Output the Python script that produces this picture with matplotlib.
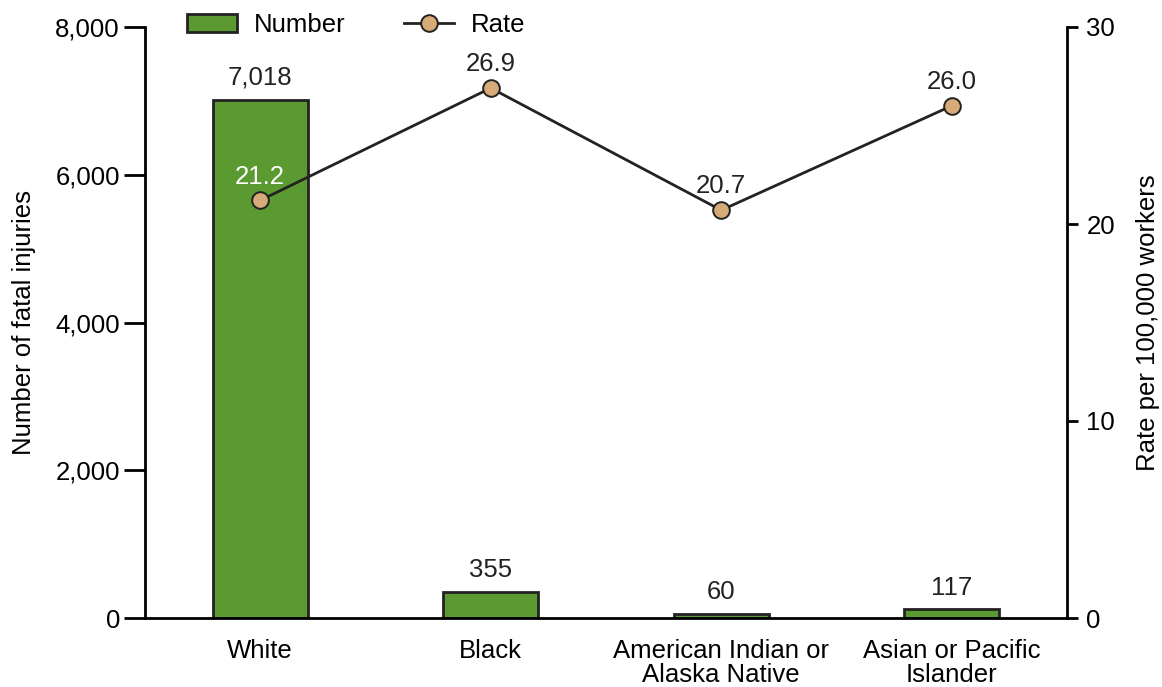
import matplotlib
matplotlib.use('Agg')
from matplotlib import pyplot as plt

categories = ['White', 'Black', 'American Indian or\nAlaska Native', 'Asian or Pacific\nIslander']
numbers = [7018, 355, 60, 117]
rates = [21.2, 26.9, 20.7, 26.0]

plt.rcParams['font.family'] = ['Liberation Sans', 'DejaVu Sans']
plt.rcParams['font.size'] = 18.5

fig = plt.figure(figsize=(11.62, 6.87), dpi=100)
ax = fig.add_axes([145/1162, 1-618/687, (1067-145)/1162, (618-27)/687])
ax2 = ax.twinx()

x = list(range(len(categories)))
bars = ax.bar(x, numbers, width=0.41, color='#5b9a31', edgecolor='#222222', linewidth=2, label='Number')
ax.set_xlim(-0.5, 3.5)
ax.set_ylim(0, 8000)
ax.set_yticks([0, 2000, 4000, 6000, 8000])
ax.set_yticklabels(['{:,}'.format(v) for v in [0, 2000, 4000, 6000, 8000]])
ax.set_xticks(x)
ax.set_xticklabels(categories, linespacing=1.0)
ax.tick_params(axis='x', length=0, pad=15)
ax.tick_params(axis='y', length=15, width=2, direction='out', pad=3)
ax.set_ylabel('Number of fatal injuries', labelpad=14)
for s in ['top', 'right']:
    ax.spines[s].set_visible(False)
for s in ['left', 'bottom']:
    ax.spines[s].set_linewidth(2)
for xi, n in zip(x, numbers):
    ax.text(xi, n + 130, '{:,}'.format(n), ha='center', va='bottom', color='#222222')

line, = ax2.plot(x, rates, color='#222222', linewidth=2, marker='o', markersize=12,
                 markerfacecolor='#d7ab78', markeredgecolor='#222222', markeredgewidth=1.4, label='Rate')
ax2.set_ylim(0, 30)
ax2.set_yticks([0, 10, 20, 30])
ax2.tick_params(axis='y', length=8, width=2, direction='out', pad=6)
ax2.set_ylabel('Rate per 100,000 workers', labelpad=15)
for s in ['top', 'left', 'bottom']:
    ax2.spines[s].set_visible(False)
ax2.spines['right'].set_linewidth(2)
for i, (xi, r) in enumerate(zip(x, rates)):
    ax2.text(xi, r + 0.6, '{:.1f}'.format(r), ha='center', va='bottom',
             color='white' if i == 0 else '#222222')

fig.legend([bars, line], ['Number', 'Rate'], loc='center', bbox_to_anchor=(356/1162, 1-25/687),
           ncol=2, frameon=False, handlelength=1.95, handleheight=0.75, columnspacing=2.3, handletextpad=0.65)

fig.savefig('out.png', dpi=100)
